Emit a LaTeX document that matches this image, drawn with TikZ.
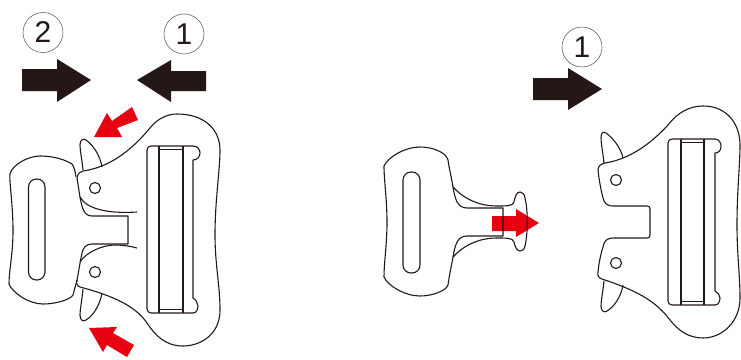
\documentclass[tikz,border=0pt]{standalone}
\usepackage{fontspec}
\setmainfont{Liberation Sans}
\definecolor{arrowblack}{HTML}{231815}
\definecolor{arrowred}{HTML}{E60012}
\tikzset{
    buckleline/.style={draw=arrowblack, line width=1.1pt, line join=round},
    thinline/.style={draw=arrowblack, line width=0.5pt},
    blackarrow/.style={fill=arrowblack},
    redarrow/.style={fill=arrowred},
    numcircle/.style={circle, draw=black!70, line width=0.5pt, minimum size=40pt, inner sep=0pt, text=arrowblack, font=\fontsize{30}{30}\selectfont}
}
\begin{document}
\begin{tikzpicture}[x=1pt,y=-1pt]
    \useasboundingbox (0,0) rectangle (741,359);

    % numbers
    \node[numcircle] (numtwo) at (43,32.5) {2};
    \node[numcircle] (numone) at (184,34) {1};
    \node[numcircle] (numright) at (582,47) {1};

    % black arrows
    \fill[blackarrow] (22,69) -- (57,69) -- (57,59) -- (91,80) -- (57,102) -- (57,91) -- (22,91) -- cycle;
    \fill[blackarrow] (206,71) -- (171,71) -- (171,60) -- (137,80) -- (171,102) -- (171,91) -- (206,91) -- cycle;
    \fill[blackarrow] (533,78) -- (568,78) -- (568,68) -- (602,89) -- (568,110) -- (568,100) -- (533,100) -- cycle;

    % red arrows
    \fill[redarrow] (94,137) -- (107,113) -- (112,121) -- (132,107) -- (138,120) -- (117,128) -- (122,137) -- cycle;
    \fill[redarrow] (89,328) -- (117,327) -- (113,333) -- (134,345) -- (127,357) -- (107,345) -- (103,352) -- cycle;
    \fill[redarrow] (492,216) -- (516,216) -- (516,209) -- (539,223) -- (516,237) -- (516,231) -- (492,231) -- cycle;

    % left buckle, body
    \draw[buckleline] (77,178) .. controls (78,173) and (80,172) .. (83,171)
        .. controls (103,168) and (125,158) .. (150,128)
        .. controls (158,118) and (168,114) .. (177,114)
        .. controls (205,114) and (220,130) .. (220,150)
        .. controls (220,170) and (215,200) .. (215,235)
        .. controls (215,265) and (220,285) .. (220,310)
        .. controls (220,335) and (200,346) .. (183,346)
        .. controls (165,346) and (155,335) .. (147,323)
        .. controls (135,305) and (110,295) .. (80,287)
        .. controls (77,286) and (76,283) .. (77,280)
        .. controls (79,270) and (80,262) .. (82,253)
        .. controls (83,248) and (86,244) .. (92,244)
        -- (128,244) -- (128,216) -- (92,216)
        .. controls (84,216) and (82,208) .. (80,197) -- cycle;
    \draw[buckleline] (80,197) .. controls (86,208) and (105,214) .. (137,212);
    \draw[buckleline] (80,262) .. controls (86,252) and (103,245) .. (115,245) .. controls (122,245) and (130,246) .. (137,248);
    \draw[buckleline] (95,188) circle (5.5);
    \draw[buckleline] (95,272) circle (5.5);

    % left buckle, levers
    \draw[buckleline] (83,170) .. controls (82,160) and (80,150) .. (80,145) .. controls (80,140) and (83,138) .. (86,140) .. controls (93,145) and (100,155) .. (102,167);
    \draw[buckleline] (83,289) .. controls (82,300) and (80,310) .. (80,315) .. controls (80,320) and (83,322) .. (86,320) .. controls (93,316) and (100,305) .. (102,293);

    % left buckle, handle
    \draw[buckleline] (76,177) .. controls (75,170) and (74,167) .. (72,164)
        .. controls (62,158) and (50,156) .. (40,156)
        .. controls (28,156) and (12,165) .. (10,174)
        .. controls (9,180) and (13,205) .. (13,230)
        .. controls (13,255) and (9,270) .. (9,284)
        .. controls (12,292) and (28,304) .. (43,304)
        .. controls (55,304) and (70,300) .. (73,295) -- (77,280);
    \draw[buckleline, rounded corners=8pt] (28.5,179) rectangle (45,280);

    % left buckle, frame
    \draw[buckleline, rounded corners=4pt] (147,240) -- (147,146) -- (193,146);
    \draw[buckleline] (193,146) .. controls (198,146) and (200,150) .. (200,153) .. controls (200,157) and (197,160) .. (193,160) -- (193,298)
        .. controls (196,300) and (198,303) .. (198,306) .. controls (198,310) and (196,313) .. (193,313);
    \draw[buckleline, rounded corners=4pt] (193,313) -- (147,313) -- (147,240);
    \draw[buckleline] (159,146) -- (159,313);
    \draw[buckleline] (183,146) -- (183,313);
    \draw[thinline] (159,149) -- (183,149);
    \draw[thinline] (159,309) -- (183,309);

    % right handle
    \draw[buckleline] (453,187) .. controls (451,175) and (449,168) .. (448,160)
        .. controls (446,152) and (432,147) .. (420,147)
        .. controls (405,147) and (388,157) .. (384,166)
        .. controls (384,180) and (387,200) .. (387,222)
        .. controls (387,245) and (384,262) .. (384,277)
        .. controls (388,286) and (405,296) .. (420,296)
        .. controls (432,296) and (446,291) .. (448,285)
        .. controls (449,277) and (451,268) .. (453,257);
    \draw[buckleline] (453,187) .. controls (463,198) and (478,206) .. (497,206)
        .. controls (507,206) and (513,206) .. (514,202)
        .. controls (515,196) and (517,192) .. (520,192)
        .. controls (523,192) and (524,194) .. (525,198)
        .. controls (528,210) and (528,233) .. (525,246)
        .. controls (524,250) and (522,251) .. (520,251)
        .. controls (517,251) and (515,247) .. (514,242)
        .. controls (513,238) and (507,238) .. (497,238)
        .. controls (478,238) and (463,246) .. (453,257);
    \draw[buckleline] (453,187) .. controls (455,200) and (458,208) .. (467,208) -- (503,208) -- (503,236) -- (467,236) .. controls (458,236) and (455,244) .. (453,257);
    \draw[buckleline, rounded corners=8pt] (403,172) rectangle (420,273);

    % right buckle, body
    \draw[buckleline] (598,170) .. controls (598,166) and (601,164) .. (605,163)
        .. controls (625,160) and (647,148) .. (668,125)
        .. controls (678,112) and (690,106) .. (703,106)
        .. controls (728,106) and (740,125) .. (740,145)
        .. controls (740,165) and (737,190) .. (737,225)
        .. controls (737,255) and (740,275) .. (740,298)
        .. controls (740,322) and (722,338) .. (703,338)
        .. controls (688,338) and (678,330) .. (670,320)
        .. controls (655,300) and (635,290) .. (602,279)
        .. controls (599,278) and (597,276) .. (598,272)
        .. controls (599,262) and (601,253) .. (603,247)
        .. controls (604,241) and (607,238) .. (613,238)
        -- (647,238) .. controls (649,238) and (650,237) .. (650,235)
        -- (650,209) .. controls (650,207) and (649,206) .. (647,206)
        -- (613,206) .. controls (606,206) and (604,202) .. (603,198)
        .. controls (601,190) and (599,180) .. (598,170) -- cycle;
    \draw[buckleline] (616,180) circle (5.5);
    \draw[buckleline] (616,263) circle (5.5);

    % right buckle, levers
    \draw[buckleline] (604,163) .. controls (603,153) and (601,143) .. (601,138) .. controls (601,133) and (603,131) .. (606,133) .. controls (613,138) and (621,148) .. (623,158);
    \draw[buckleline] (604,281) .. controls (603,291) and (601,301) .. (601,306) .. controls (601,311) and (604,313) .. (607,311) .. controls (614,307) and (621,297) .. (623,285);

    % right buckle, frame
    \draw[buckleline, rounded corners=4pt] (668,220) -- (668,139) -- (715,139);
    \draw[buckleline] (715,139) .. controls (719,139) and (721,143) .. (721,146) .. controls (721,150) and (719,153) .. (715,153) -- (715,291)
        .. controls (718,293) and (720,295) .. (720,298) .. controls (720,302) and (718,305) .. (715,305);
    \draw[buckleline, rounded corners=4pt] (715,305) -- (668,305) -- (668,220);
    \draw[buckleline] (681,139) -- (681,305);
    \draw[buckleline] (704,139) -- (704,305);
    \draw[thinline] (681,142) -- (704,142);
    \draw[thinline] (681,301) -- (704,301);
\end{tikzpicture}
\end{document}
